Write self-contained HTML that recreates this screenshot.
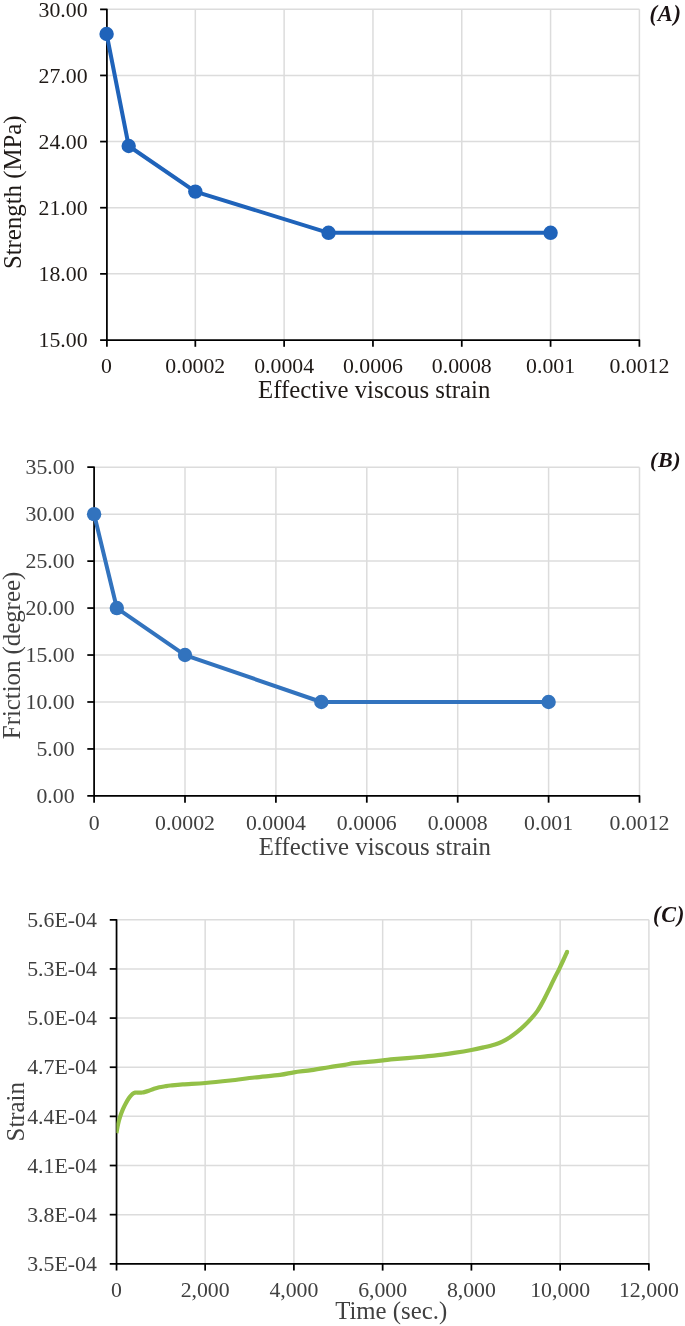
<!DOCTYPE html>
<html lang="en"><head><meta charset="utf-8"><title>Charts</title>
<style>
html,body{margin:0;padding:0;background:#fff;}
body{width:685px;height:1326px;overflow:hidden;}
svg{display:block;font-family:"Liberation Serif","Times New Roman",serif;}
</style></head><body>
<svg width="685" height="1326" viewBox="0 0 685 1326">
<rect width="685" height="1326" fill="#fff"/>
<!-- chart A -->
<g stroke="#dcdcdc" stroke-width="1.5" fill="none">
<line x1="195.32" y1="9.3" x2="195.32" y2="340"/>
<line x1="284.13" y1="9.3" x2="284.13" y2="340"/>
<line x1="372.95" y1="9.3" x2="372.95" y2="340"/>
<line x1="461.77" y1="9.3" x2="461.77" y2="340"/>
<line x1="550.58" y1="9.3" x2="550.58" y2="340"/>
<line x1="639.4" y1="9.3" x2="639.4" y2="340"/>
<line x1="106.5" y1="9.3" x2="639.4" y2="9.3"/>
<line x1="106.5" y1="75.44" x2="639.4" y2="75.44"/>
<line x1="106.5" y1="141.58" x2="639.4" y2="141.58"/>
<line x1="106.5" y1="207.72" x2="639.4" y2="207.72"/>
<line x1="106.5" y1="273.86" x2="639.4" y2="273.86"/>
</g>
<g stroke="#000" stroke-width="1.75" fill="none" stroke-linejoin="round">
<path d="M100.1 9.3H106.9V346.8"/>
<path d="M100.1 340H639.4V346.8"/>
<line x1="195.32" y1="340" x2="195.32" y2="346.8"/>
<line x1="284.13" y1="340" x2="284.13" y2="346.8"/>
<line x1="372.95" y1="340" x2="372.95" y2="346.8"/>
<line x1="461.77" y1="340" x2="461.77" y2="346.8"/>
<line x1="550.58" y1="340" x2="550.58" y2="346.8"/>
<line x1="100.1" y1="75.44" x2="106.9" y2="75.44"/>
<line x1="100.1" y1="141.58" x2="106.9" y2="141.58"/>
<line x1="100.1" y1="207.72" x2="106.9" y2="207.72"/>
<line x1="100.1" y1="273.86" x2="106.9" y2="273.86"/>
</g>
<g fill="#1f1a17" font-size="21.8">
<g text-anchor="middle">
<text x="106.5" y="373">0</text>
<text x="195.32" y="373">0.0002</text>
<text x="284.13" y="373">0.0004</text>
<text x="372.95" y="373">0.0006</text>
<text x="461.77" y="373">0.0008</text>
<text x="550.58" y="373">0.001</text>
<text x="639.4" y="373">0.0012</text>
<text x="374.2" y="398.1" font-size="24.8">Effective viscous strain</text>
<text transform="translate(21.4 192.3) rotate(-90)" font-size="24.8">Strength (MPa)</text>
</g>
<g text-anchor="end">
<text x="87.6" y="16.5">30.00</text>
<text x="87.6" y="82.64">27.00</text>
<text x="87.6" y="148.78">24.00</text>
<text x="87.6" y="214.92">21.00</text>
<text x="87.6" y="281.06">18.00</text>
<text x="87.6" y="347.2">15.00</text>
</g>
</g>
<text x="649.6" y="20.6" font-size="22.5" letter-spacing="0.7" font-weight="bold" font-style="italic" fill="#1a1213">(A)</text>
<polyline fill="none" stroke="#1f63ba" stroke-width="4.0" stroke-linejoin="round" stroke-linecap="round" points="106.6,34 128.7,146 195.32,191.6 328.54,232.8 550.58,232.8"/>
<g fill="#1f63ba">
<circle cx="106.6" cy="34" r="7.2"/>
<circle cx="128.7" cy="146" r="7.2"/>
<circle cx="195.32" cy="191.6" r="7.2"/>
<circle cx="328.54" cy="232.8" r="7.2"/>
<circle cx="550.58" cy="232.8" r="7.2"/>
</g>
<!-- chart B -->
<g stroke="#dcdcdc" stroke-width="1.5" fill="none">
<line x1="185" y1="467.2" x2="185" y2="795.9"/>
<line x1="275.9" y1="467.2" x2="275.9" y2="795.9"/>
<line x1="366.8" y1="467.2" x2="366.8" y2="795.9"/>
<line x1="457.7" y1="467.2" x2="457.7" y2="795.9"/>
<line x1="548.6" y1="467.2" x2="548.6" y2="795.9"/>
<line x1="639.5" y1="467.2" x2="639.5" y2="795.9"/>
<line x1="94.1" y1="467.2" x2="639.5" y2="467.2"/>
<line x1="94.1" y1="514.16" x2="639.5" y2="514.16"/>
<line x1="94.1" y1="561.11" x2="639.5" y2="561.11"/>
<line x1="94.1" y1="608.07" x2="639.5" y2="608.07"/>
<line x1="94.1" y1="655.03" x2="639.5" y2="655.03"/>
<line x1="94.1" y1="701.99" x2="639.5" y2="701.99"/>
<line x1="94.1" y1="748.94" x2="639.5" y2="748.94"/>
</g>
<g stroke="#000" stroke-width="1.75" fill="none" stroke-linejoin="round">
<path d="M87.3 467.2H94.1V802.7"/>
<path d="M87.3 795.9H639.5V802.7"/>
<line x1="185" y1="795.9" x2="185" y2="802.7"/>
<line x1="275.9" y1="795.9" x2="275.9" y2="802.7"/>
<line x1="366.8" y1="795.9" x2="366.8" y2="802.7"/>
<line x1="457.7" y1="795.9" x2="457.7" y2="802.7"/>
<line x1="548.6" y1="795.9" x2="548.6" y2="802.7"/>
<line x1="87.3" y1="514.16" x2="94.1" y2="514.16"/>
<line x1="87.3" y1="561.11" x2="94.1" y2="561.11"/>
<line x1="87.3" y1="608.07" x2="94.1" y2="608.07"/>
<line x1="87.3" y1="655.03" x2="94.1" y2="655.03"/>
<line x1="87.3" y1="701.99" x2="94.1" y2="701.99"/>
<line x1="87.3" y1="748.94" x2="94.1" y2="748.94"/>
</g>
<g fill="#404040" font-size="21.8">
<g text-anchor="middle">
<text x="94.1" y="830">0</text>
<text x="185" y="830">0.0002</text>
<text x="275.9" y="830">0.0004</text>
<text x="366.8" y="830">0.0006</text>
<text x="457.7" y="830">0.0008</text>
<text x="548.6" y="830">0.001</text>
<text x="639.5" y="830">0.0012</text>
<text x="374.8" y="855.2" font-size="24.8">Effective viscous strain</text>
<text transform="translate(19.6 655.5) rotate(-90)" font-size="24.8">Friction (degree)</text>
</g>
<g text-anchor="end">
<text x="74.6" y="474.4">35.00</text>
<text x="74.6" y="521.36">30.00</text>
<text x="74.6" y="568.31">25.00</text>
<text x="74.6" y="615.27">20.00</text>
<text x="74.6" y="662.23">15.00</text>
<text x="74.6" y="709.19">10.00</text>
<text x="74.6" y="756.14">5.00</text>
<text x="74.6" y="803.1">0.00</text>
</g>
</g>
<text x="650" y="467.2" font-size="22" letter-spacing="0.6" font-weight="bold" font-style="italic" fill="#1a1213">(B)</text>
<polyline fill="none" stroke="#3273be" stroke-width="4.0" stroke-linejoin="round" stroke-linecap="round" points="94.1,514.16 116.82,608.07 185,655.03 321.35,701.99 548.6,701.99"/>
<g fill="#3273be">
<circle cx="94.1" cy="514.16" r="7.2"/>
<circle cx="116.82" cy="608.07" r="7.2"/>
<circle cx="185" cy="655.03" r="7.2"/>
<circle cx="321.35" cy="701.99" r="7.2"/>
<circle cx="548.6" cy="701.99" r="7.2"/>
</g>
<!-- chart C -->
<g stroke="#dcdcdc" stroke-width="1.5" fill="none">
<line x1="205.15" y1="919.8" x2="205.15" y2="1263.8"/>
<line x1="293.9" y1="919.8" x2="293.9" y2="1263.8"/>
<line x1="382.65" y1="919.8" x2="382.65" y2="1263.8"/>
<line x1="471.4" y1="919.8" x2="471.4" y2="1263.8"/>
<line x1="560.15" y1="919.8" x2="560.15" y2="1263.8"/>
<line x1="648.9" y1="919.8" x2="648.9" y2="1263.8"/>
<line x1="116.4" y1="919.8" x2="648.9" y2="919.8"/>
<line x1="116.4" y1="968.94" x2="648.9" y2="968.94"/>
<line x1="116.4" y1="1018.09" x2="648.9" y2="1018.09"/>
<line x1="116.4" y1="1067.23" x2="648.9" y2="1067.23"/>
<line x1="116.4" y1="1116.37" x2="648.9" y2="1116.37"/>
<line x1="116.4" y1="1165.51" x2="648.9" y2="1165.51"/>
<line x1="116.4" y1="1214.66" x2="648.9" y2="1214.66"/>
</g>
<g stroke="#000" stroke-width="1.75" fill="none" stroke-linejoin="round">
<path d="M109.75 919.8H116.55V1270.6"/>
<path d="M109.75 1263.8H648.9V1270.6"/>
<line x1="205.15" y1="1263.8" x2="205.15" y2="1270.6"/>
<line x1="293.9" y1="1263.8" x2="293.9" y2="1270.6"/>
<line x1="382.65" y1="1263.8" x2="382.65" y2="1270.6"/>
<line x1="471.4" y1="1263.8" x2="471.4" y2="1270.6"/>
<line x1="560.15" y1="1263.8" x2="560.15" y2="1270.6"/>
<line x1="109.75" y1="968.94" x2="116.55" y2="968.94"/>
<line x1="109.75" y1="1018.09" x2="116.55" y2="1018.09"/>
<line x1="109.75" y1="1067.23" x2="116.55" y2="1067.23"/>
<line x1="109.75" y1="1116.37" x2="116.55" y2="1116.37"/>
<line x1="109.75" y1="1165.51" x2="116.55" y2="1165.51"/>
<line x1="109.75" y1="1214.66" x2="116.55" y2="1214.66"/>
</g>
<g fill="#404040" font-size="21.8">
<g text-anchor="middle">
<text x="116.4" y="1296.6">0</text>
<text x="205.15" y="1296.6">2,000</text>
<text x="293.9" y="1296.6">4,000</text>
<text x="382.65" y="1296.6">6,000</text>
<text x="471.4" y="1296.6">8,000</text>
<text x="560.15" y="1296.6">10,000</text>
<text x="648.9" y="1296.6">12,000</text>
<text x="391.2" y="1318.6" font-size="24.8">Time (sec.)</text>
<text transform="translate(23.8 1111.8) rotate(-90)" font-size="24.8">Strain</text>
</g>
<g text-anchor="end">
<text x="96.8" y="927">5.6E-04</text>
<text x="96.8" y="976.14">5.3E-04</text>
<text x="96.8" y="1025.29">5.0E-04</text>
<text x="96.8" y="1074.43">4.7E-04</text>
<text x="96.8" y="1123.57">4.4E-04</text>
<text x="96.8" y="1172.71">4.1E-04</text>
<text x="96.8" y="1221.86">3.8E-04</text>
<text x="96.8" y="1271">3.5E-04</text>
</g>
</g>
<text x="653.1" y="922.4" font-size="22.1" letter-spacing="0.85" font-weight="bold" font-style="italic" fill="#1a1213">(C)</text>
<clipPath id="clipC"><rect x="116.4" y="900" width="560" height="380"/></clipPath>
<path clip-path="url(#clipC)" fill="none" stroke="#93c047" stroke-width="4.2" stroke-linecap="butt" stroke-linejoin="round" d="M116.4 1133C116.68 1131.5 117.45 1126.8 118.1 1124C118.75 1121.2 119.49 1118.67 120.3 1116.2C121.11 1113.73 122 1111.4 122.95 1109.2C123.9 1107 124.91 1104.98 126 1103C127.09 1101.02 128.4 1098.83 129.5 1097.3C130.6 1095.77 131.65 1094.58 132.6 1093.8C133.55 1093.02 134.37 1092.8 135.2 1092.6C136.03 1092.4 136.8 1092.58 137.6 1092.6C138.4 1092.62 139.2 1092.72 140 1092.7C140.8 1092.68 141.67 1092.6 142.4 1092.5C143.13 1092.4 143.33 1092.38 144.4 1092.1C145.47 1091.82 147.2 1091.35 148.8 1090.8C150.4 1090.25 152.25 1089.38 154 1088.8C155.75 1088.22 157.47 1087.72 159.3 1087.3C161.13 1086.88 163.13 1086.6 165 1086.3C166.87 1086 167.53 1085.83 170.5 1085.5C173.47 1085.17 177.02 1084.72 182.8 1084.3C188.58 1083.88 197.32 1083.63 205.2 1083C213.08 1082.37 221.87 1081.42 230.1 1080.5C238.33 1079.58 246.28 1078.43 254.6 1077.5C262.92 1076.57 273.43 1075.77 280 1074.9C286.57 1074.03 288.75 1073.1 294 1072.3C299.25 1071.5 305.66 1070.95 311.5 1070.1C317.34 1069.25 323.5 1068.08 329.05 1067.2C334.6 1066.32 340.64 1065.47 344.8 1064.8C348.96 1064.13 350.13 1063.68 354 1063.2C357.87 1062.72 363.17 1062.37 368 1061.9C372.83 1061.43 378.67 1060.85 383 1060.4C387.33 1059.95 388.83 1059.68 394 1059.2C399.17 1058.72 407.33 1058.08 414 1057.5C420.67 1056.92 427.33 1056.47 434 1055.7C440.67 1054.93 447.77 1053.85 454 1052.9C460.23 1051.95 466.38 1050.94 471.4 1050C476.42 1049.06 480.17 1048.17 484.1 1047.25C488.03 1046.33 491.97 1045.4 495 1044.45C498.03 1043.5 499.87 1042.72 502.3 1041.55C504.73 1040.38 507.17 1039.01 509.6 1037.45C512.03 1035.89 514.47 1034.14 516.9 1032.2C519.33 1030.26 521.72 1028.19 524.2 1025.8C526.68 1023.41 529.62 1020.3 531.8 1017.85C533.98 1015.4 535.75 1013.26 537.3 1011.1C538.85 1008.94 539.85 1007.08 541.1 1004.9C542.35 1002.72 543.57 1000.37 544.8 998C546.02 995.63 547.24 993.17 548.45 990.7C549.66 988.23 550.85 985.67 552.05 983.2C553.25 980.73 554.41 978.38 555.65 975.9C556.89 973.42 558.21 970.95 559.5 968.3C560.79 965.65 562.13 962.75 563.4 960C564.67 957.25 566.48 953.17 567.1 951.8"/>
<circle cx="567.1" cy="951.8" r="2.1" fill="#93c047"/>
</svg>
</body></html>
